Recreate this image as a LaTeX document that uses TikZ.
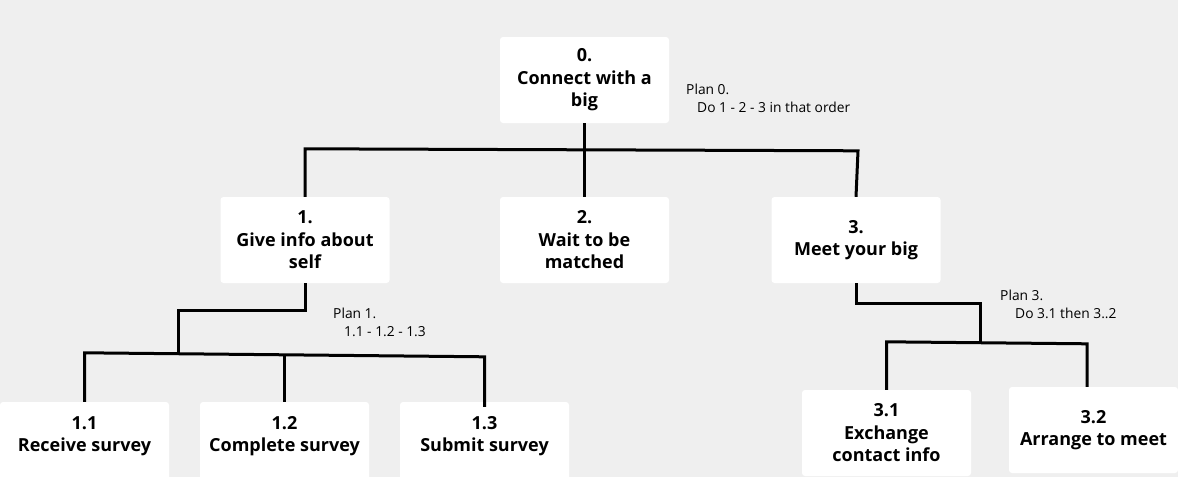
\documentclass[tikz,border=0pt]{standalone}
\usepackage{fontspec}
\setmainfont{Open Sans}
\usetikzlibrary{calc}
\definecolor{bgc}{HTML}{EFEFEF}
\tikzset{
  box/.style={fill=white, rounded corners=3pt, minimum width=169pt, minimum height=86pt, inner sep=0pt, align=center, font=\bfseries\fontsize{18}{22.5}\selectfont},
  boxtext/.style={align=center, font=\bfseries\fontsize{18}{22.5}\selectfont, inner sep=0pt},
  plan/.style={anchor=west, align=left, inner sep=0pt, font=\fontsize{13.8}{18}\selectfont},
  conn/.style={draw=black, line width=3pt}
}
\begin{document}
\begin{tikzpicture}[x=1pt,y=-1pt]
\fill[bgc] (0,0) rectangle (1178,477);
\clip (0,0) rectangle (1178,477);
\useasboundingbox (0,0) rectangle (1178,477);
% boxes
\node[box] (n0) at (584.5,80) {0.\\Connect with a\\big};
\node[box] (n1) at (305,240) {1.\\Give info about\\self};
\node[box] (n2) at (584.5,240) {2.\\Wait to be\\matched};
\node[box] (n3) at (856,240) {3.\\Meet your big};
\node[box, label={[boxtext, yshift=9pt]center:1.1\\Receive survey}] (n11) at (84.5,445) {};
\node[box, label={[boxtext, yshift=9pt]center:1.2\\Complete survey}] (n12) at (284.5,445) {};
\node[box, label={[boxtext, yshift=9pt]center:1.3\\Submit survey}] (n13) at (484.5,445) {};
\node[box] (n31) at (886.5,433) {3.1\\Exchange\\contact info};
\node[box] (n32) at (1093.5,430) {3.2\\Arrange to meet};
% plans
\node[plan] (plan0) at (686,98.5) {Plan 0.\\\hspace*{11pt}Do 1 - 2 - 3 in that order};
\node[plan] (plan1) at (333,322.5) {Plan 1.\\\hspace*{11pt}1.1 - 1.2 - 1.3};
\node[plan] (plan3) at (1000,304) {Plan 3.\\\hspace*{15pt}Do 3.1 then 3..2};
% junctions
\coordinate (j1) at (178,310);
\coordinate (j1b) at (178,353);
\coordinate (j3) at (980,303);
\coordinate (j3b) at (980,342);
% level 0
\draw[conn] (n1.north) -- ++(0,-48) -- ($(n3.north)+(2,-46)$) -- (n3.north);
\draw[conn] (n0.south) -- (n2.north);
% level 1
\draw[conn] (n1.south) |- (j1) -- (j1b);
\draw[conn] (n11.north) -- ++(0,-49) -- ($(n13.north)+(0,-45)$) -- ($(n13.north)+(0,5)$);
\draw[conn] (n12.north) -- ++(0,-48);
% level 3
\draw[conn] (n3.south) |- (j3) -- (j3b);
\draw[conn] (n31.north) -- ++(0,-48) -- ($(n32.north)+(-6.5,-43)$) -- ($(n32.north)+(-6.5,0)$);
\end{tikzpicture}
\end{document}
